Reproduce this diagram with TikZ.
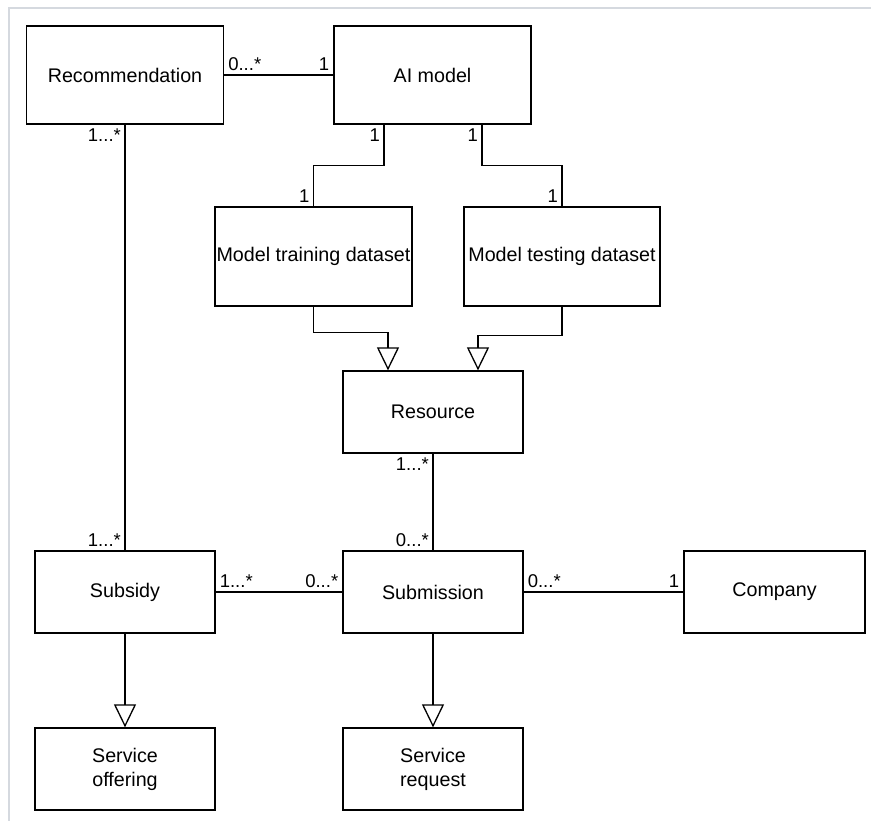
\documentclass[tikz,border=0pt]{standalone}
\usepackage{fontspec}
\setmainfont{Liberation Sans}
\usepackage{xcolor}
\usepackage{tikz}
\usetikzlibrary{arrows.meta}
\definecolor{frame}{HTML}{D5D9DF}

\begin{document}
\begin{tikzpicture}[x=1pt,y=-1pt,line width=1.3pt,
	box/.style={draw,minimum width=180pt,minimum height=82pt,inner sep=1pt,align=center,font=\fontsize{19.7}{24}\selectfont},
	big/.style={box,minimum width=197pt,minimum height=98pt},
	m/.style={font=\fontsize{18.5}{21}\selectfont,inner sep=3.5pt},
	gen/.style={-{Triangle[open,length=23pt,width=22pt]}}]
				\useasboundingbox (0,0) rectangle (871,821);
				\draw[frame,line width=2pt] (9,821) -- (9,8) -- (871,8);
				\node[big] (rec) at (125,75) {Recommendation};
				\node[big] (ai) at (432.5,75) {AI model};
				\node[big,minimum height=99pt] (train) at (313.5,256.5) {Model training dataset};
				\node[big,minimum height=99pt,minimum width=196pt] (test) at (562,256.5) {Model testing dataset};
				\node[box] (res) at (433,412) {Resource};
				\node[box] (sub) at (125,592) {Subsidy};
				\node[box] (subm) at (433,592) {Submission};
				\node[box,minimum width=181pt] (comp) at (774.5,592) {Company};
				\node[box] (offer) at (125,769) {Service\\offering};
				\node[box] (req) at (433,769) {Service\\request};
				\draw (rec) -- (ai) node[m,pos=0,anchor=south west] (rec-ai) {0...*} node[m,pos=1,anchor=south east] (ai-rec) {1};
				\draw ([xshift=-48.5pt]ai.south) node[m,anchor=north east] (ai-tr) {1} -- ++(0,41) -| (train.north) node[m,anchor=south east] (tr-ai) {1};
				\draw ([xshift=49.5pt]ai.south) node[m,anchor=north east] (ai-te) {1} -- ++(0,41) -| (test.north) node[m,anchor=south east] (te-ai) {1};
				\draw (rec) -- (sub) node[m,pos=0,anchor=north east] (rec-sub) {1...*} node[m,pos=1,anchor=south east] (sub-rec) {1...*};
				\draw (res) -- (subm) node[m,pos=0,anchor=north east] (res-subm) {1...*} node[m,pos=1,anchor=south east] (subm-res) {0...*};
				\draw (sub) -- (subm) node[m,pos=0,anchor=south west] (sub-subm) {1...*} node[m,pos=1,anchor=south east] (subm-sub) {0...*};
				\draw (subm) -- (comp) node[m,pos=0,anchor=south west] (subm-comp) {0...*} node[m,pos=1,anchor=south east] (comp-subm) {1};
				\draw[gen] (train.south) -- ++(0,26) -| ([xshift=-45pt]res.north);
				\draw[gen] (test.south) -- ++(0,29) -| ([xshift=45pt]res.north);
				\draw[gen] (sub) -- (offer);
				\draw[gen] (subm) -- (req);
			\end{tikzpicture}
\end{document}
